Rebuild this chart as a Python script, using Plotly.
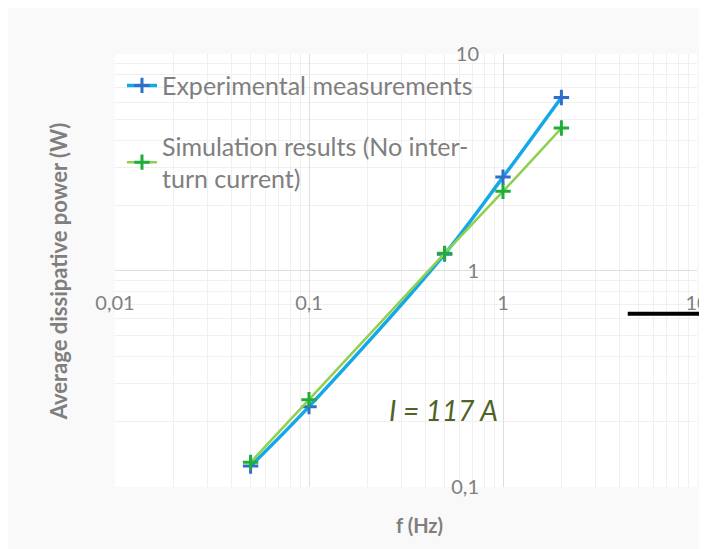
import plotly.graph_objects as go

# frequency (Hz) and average dissipative power (W)
freq = [0.05, 0.1, 0.5, 1, 2]
power_exp = [0.125, 0.235, 1.19, 2.7, 6.3]
power_sim = [0.130, 0.253, 1.20, 2.32, 4.55]

x_ticks = [0.01, 0.1, 1, 10]
x_ticktext = ["0,01", "0,1", "1", "10"]
y_ticks = [0.1, 1, 10]
y_ticktext = ["0,1", "1", "10"]

gray = "#7f7f7f"
font_family = "Lato, Open Sans, sans-serif"

fig = go.Figure()
fig.add_trace(go.Scatter(x=freq, y=power_exp, mode="lines+markers", line_shape="spline",
                         name="Experimental measurements", legendgroup="a",
                         line=dict(color="#14a8e8", width=3.5),
                         marker=dict(symbol="cross-thin", size=11, line=dict(color="#2f6fc9", width=3))))
fig.add_trace(go.Scatter(x=freq, y=power_sim, mode="lines+markers", line_shape="spline",
                         name="Simulation results (No inter-<br>turn current)", legendgroup="b",
                         line=dict(color="#8fd14f", width=2.5),
                         marker=dict(symbol="cross-thin", size=11, line=dict(color="#1fae3a", width=3))))

# the page body adds an 8px offset, margins take that into account
fig.update_layout(
    width=707, height=549,
    margin=dict(l=107, r=18, t=46, b=70, autoexpand=False),
    paper_bgcolor="#f9f9f9",
    plot_bgcolor="white",
    font=dict(family=font_family, color=gray, size=20),
    showlegend=True,
    legend=dict(x=0.012, y=0.98, xanchor="left", yanchor="top", bgcolor="rgba(0,0,0,0)",
                font=dict(size=25, color=gray), tracegroupgap=25, itemwidth=30),
)

fig.update_xaxes(type="log", range=[-2, 1], tickvals=x_ticks, ticktext=x_ticktext,
                 anchor="free", position=0.5, showline=False, zeroline=False,
                 showgrid=True, gridcolor="#dedede", gridwidth=1, ticks="",
                 ticklabelstandoff=18, tickfont=dict(size=20, color=gray),
                 minor=dict(showgrid=True, gridcolor="#f0f0f0", dtick="D1"))
fig.update_yaxes(type="log", range=[-1, 1], tickvals=y_ticks, ticktext=y_ticktext,
                 anchor="free", position=2 / 3, showline=False, zeroline=False,
                 showgrid=True, gridcolor="#dedede", gridwidth=1, ticks="",
                 ticklabelstandoff=24, tickfont=dict(size=20, color=gray),
                 minor=dict(showgrid=True, gridcolor="#f0f0f0", dtick="D1"))

fig.add_annotation(text="<b>f (Hz)</b>", xref="paper", yref="paper", x=0.524, y=-0.088,
                   xanchor="center", yanchor="middle",
                   showarrow=False, font=dict(size=20, color=gray))
fig.add_annotation(text="<b>Average dissipative power (W)</b>", xref="paper", yref="paper",
                   x=-0.097, y=0.497, xanchor="center", yanchor="middle", textangle=-90,
                   showarrow=False, font=dict(size=22, color=gray))
fig.add_annotation(text="<i>I = 117 A</i>", xref="paper", yref="paper", x=0.565, y=0.178,
                   xanchor="center", yanchor="middle",
                   showarrow=False, font=dict(size=28, color="#4f6228"))

# black bar that sits at the right edge of the slide
fig.add_shape(type="line", xref="paper", yref="paper", x0=0.881, x1=1.05, y0=0.40, y1=0.40,
              line=dict(color="black", width=4))

fig.write_html("out.html")
